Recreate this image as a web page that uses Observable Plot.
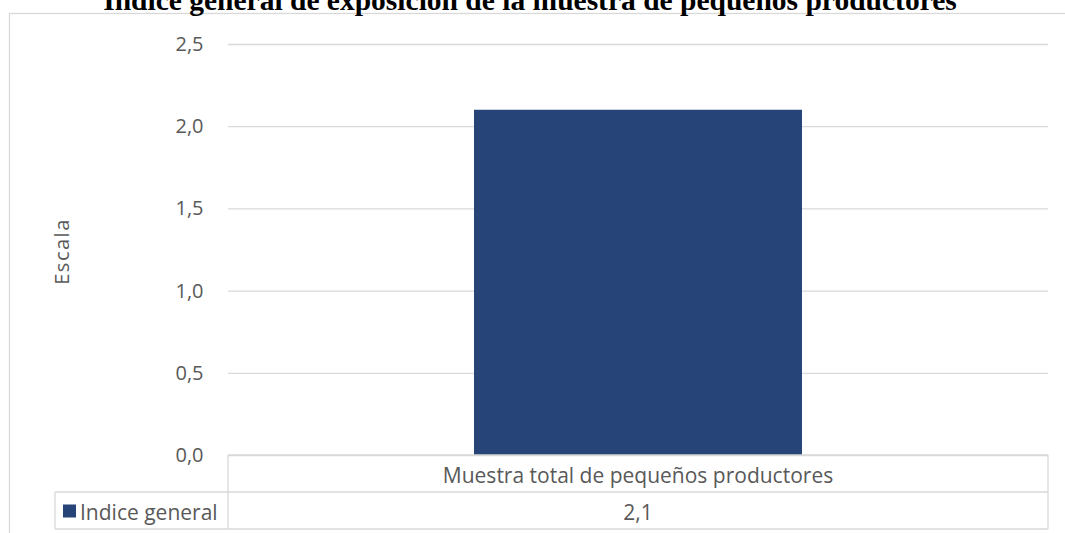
<!DOCTYPE html>
<html><head><meta charset="utf-8">
<script src="https://cdn.jsdelivr.net/npm/d3@7"></script>
<script src="https://cdn.jsdelivr.net/npm/@observablehq/plot@0.6"></script>
<style>body{margin:0;background:#fff;overflow:hidden} svg{display:block}</style>
</head><body><div id="chart"></div>
<script>
const title = "Indice general de exposición de la muestra de pequeños productores";
const yLabel = "Escala";
const categories = ["Muestra total de pequeños productores"];
const seriesName = "Indice general";
const values = [2.1];
const yTicks = [0, 0.5, 1, 1.5, 2, 2.5];

const data = categories.map((c, i) => ({cat: c, value: values[i]}));
const fmt = d => d.toFixed(1).replace(".", ",");

const W = 1065, H = 533;
const FONT = "'Open Sans', sans-serif";
const FS = 20;
const FT = 21;
const GRID = "#d9d9d9";
const TXT = "#595959";
const BAR = "#264478";

const plot = Plot.plot({
  width: W, height: H,
  marginTop: 44, marginBottom: 78, marginLeft: 228, marginRight: 17,
  style: {fontFamily: FONT, fontSize: FS + "px", color: TXT, background: "#fff"},
  x: {domain: categories, paddingInner: 0.6, paddingOuter: 0.3, axis: null},
  y: {domain: [0, 2.5], label: null},
  marks: [
    Plot.gridY(yTicks, {stroke: GRID, strokeOpacity: 1, strokeWidth: 1.3}),
    Plot.axisY(yTicks, {tickSize: 0, tickPadding: 25, tickFormat: fmt, label: null, fill: TXT, fontSize: FS}),
    Plot.barY(data, {x: "cat", y: "value", fill: BAR})
  ]
});

const svg = d3.select(plot);
const xr = plot.scale("x").range;
const y = plot.scale("y");
const y0 = y.apply(0);
const rowH = 37;
const x0 = xr[0], x1 = xr[1];
const colW = (x1 - x0) / categories.length;
const legendLeft = 55;

// outer chart border
svg.append("rect").attr("x", 9.5).attr("y", 13.5).attr("width", W + 20).attr("height", H + 20)
  .attr("fill", "none").attr("stroke", GRID).attr("stroke-width", 1.3);

// title
svg.append("text").attr("x", 530).attr("y", 10).attr("text-anchor", "middle")
  .attr("font-family", "'Liberation Serif', 'Times New Roman', serif").attr("font-weight", "bold")
  .attr("font-size", 29.5).attr("fill", "#000").text(title);

// y label
svg.append("text").attr("transform", `translate(61,${(y.apply(2.5) + y0) / 2 + 2}) rotate(-90)`)
  .attr("text-anchor", "middle").attr("dominant-baseline", "central")
  .attr("font-family", FONT).attr("font-size", FS).attr("letter-spacing", 1.5).attr("fill", TXT).text(yLabel);

// data table
const tg = svg.append("g").attr("stroke", GRID).attr("stroke-width", 1.3).attr("fill", "none");
tg.append("line").attr("x1", x0).attr("x2", x1).attr("y1", y0).attr("y2", y0);
tg.append("line").attr("x1", legendLeft).attr("x2", x1).attr("y1", y0 + rowH).attr("y2", y0 + rowH);
tg.append("line").attr("x1", legendLeft).attr("x2", x1).attr("y1", y0 + 2 * rowH).attr("y2", y0 + 2 * rowH);
tg.append("line").attr("x1", legendLeft).attr("x2", legendLeft).attr("y1", y0 + rowH).attr("y2", y0 + 2 * rowH);
for (let i = 0; i <= categories.length; i++) {
  tg.append("line").attr("x1", x0 + i * colW).attr("x2", x0 + i * colW).attr("y1", y0).attr("y2", y0 + 2 * rowH);
}
categories.forEach((c, i) => {
  svg.append("text").attr("x", x0 + (i + 0.5) * colW).attr("y", y0 + rowH / 2 + 1)
    .attr("text-anchor", "middle").attr("dominant-baseline", "central")
    .attr("font-family", FONT).attr("font-size", FT).attr("fill", TXT).text(c);
  svg.append("text").attr("x", x0 + (i + 0.5) * colW).attr("y", y0 + rowH * 1.5 + 1)
    .attr("text-anchor", "middle").attr("dominant-baseline", "central")
    .attr("font-family", FONT).attr("font-size", FT).attr("fill", TXT).text(fmt(values[i]));
});
svg.append("rect").attr("x", 63).attr("y", y0 + rowH * 1.5 - 6).attr("width", 13).attr("height", 13).attr("fill", BAR);
svg.append("text").attr("x", 80).attr("y", y0 + rowH * 1.5 + 1).attr("text-anchor", "start").attr("dominant-baseline", "central")
  .attr("font-family", FONT).attr("font-size", FT).attr("fill", TXT).text(seriesName);

document.getElementById("chart").appendChild(plot);
</script>
</body></html>
